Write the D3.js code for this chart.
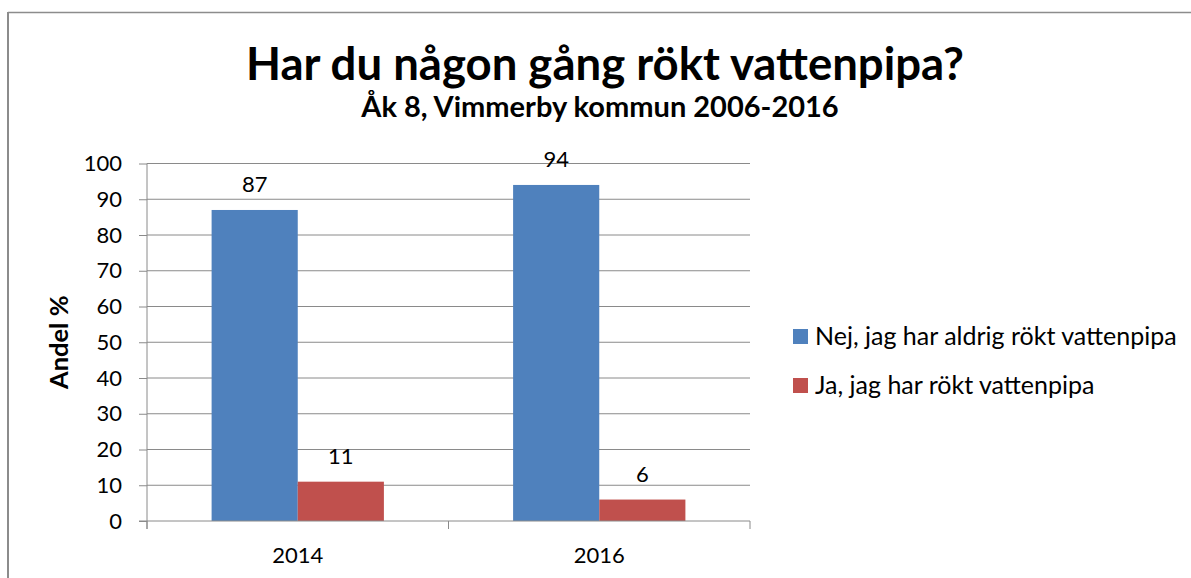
<!DOCTYPE html>
<html>
<head>
<meta charset="utf-8">
<script src="https://cdn.jsdelivr.net/npm/d3@7"></script>
<style>
  body { margin: 0; background: #fff; }
  svg { display: block; font-family: Lato, "Open Sans", sans-serif; }
</style>
</head>
<body>
<svg width="1191" height="578"></svg>
<script>
// chart data
var years = ['2014', '2016'];
var seriesNames = ['Nej, jag har aldrig rökt vattenpipa', 'Ja, jag har rökt vattenpipa'];
var nejValues = [87, 94];
var jaValues = [11, 6];
var yTicks = [0, 10, 20, 30, 40, 50, 60, 70, 80, 90, 100];
var colors = ['#4f81bd', '#c0504d'];

var svg = d3.select('svg');
var width = +svg.attr('width');
var height = +svg.attr('height');

var plot = { left: 147, right: 750, top: 163.5, bottom: 521 };

// frame of the chart object (only top and left show)
svg.append('line')
  .attr('x1', 8).attr('x2', width).attr('y1', 12.5).attr('y2', 12.5)
  .attr('stroke', '#8c8c8c').attr('stroke-width', 1.5);
svg.append('line')
  .attr('x1', 8).attr('x2', 8).attr('y1', 12).attr('y2', height)
  .attr('stroke', '#8c8c8c').attr('stroke-width', 2);

var x = d3.scaleBand().domain(years).range([plot.left, plot.right]);
var y = d3.scaleLinear().domain([0, 100]).range([plot.bottom, plot.top]);

// bar width from a 150% gap
var barW = x.bandwidth() / 3.5;
var x1 = d3.scaleBand().domain(d3.range(seriesNames.length))
  .range([barW * 0.75, barW * 0.75 + barW * 2]);

// gridlines
var grid = svg.append('g');
grid.selectAll('line').data(yTicks.slice(1)).enter().append('line')
  .attr('x1', plot.left).attr('x2', plot.right)
  .attr('y1', function(d) { return y(d); })
  .attr('y2', function(d) { return y(d); })
  .attr('stroke', '#8a8a8a').attr('stroke-width', 1);

// y axis
var yAxis = svg.append('g')
  .attr('transform', 'translate(' + plot.left + ',0)')
  .call(d3.axisLeft(y).tickValues(yTicks).tickSize(8).tickPadding(17));
yAxis.select('.domain').attr('stroke', '#8a8a8a').attr('d', 'M0,' + (plot.top) + 'V' + (plot.bottom + 8));
yAxis.selectAll('.tick line').attr('stroke', '#8a8a8a');
yAxis.selectAll('.tick text')
  .attr('font-size', 22).attr('font-family', 'Lato').attr('fill', '#000');

// bars
var data = years.map(function(yr, i) { return { year: yr, vals: [nejValues[i], jaValues[i]] }; });
var groups = svg.selectAll('.grp').data(data).enter().append('g')
  .attr('class', 'grp')
  .attr('transform', function(d) { return 'translate(' + x(d.year) + ',0)'; });

groups.selectAll('rect').data(function(d) { return d.vals; }).enter().append('rect')
  .attr('x', function(d, i) { return x1(i); })
  .attr('width', x1.bandwidth())
  .attr('y', function(d) { return y(d); })
  .attr('height', function(d) { return y(0) - y(d); })
  .attr('fill', function(d, i) { return colors[i]; });

groups.selectAll('text').data(function(d) { return d.vals; }).enter().append('text')
  .attr('x', function(d, i) { return x1(i) + x1.bandwidth() / 2; })
  .attr('y', function(d) { return y(d) - 18; })
  .attr('text-anchor', 'middle')
  .attr('font-size', 22)
  .text(function(d) { return d; });

// x axis
var xAxis = svg.append('g')
  .attr('transform', 'translate(0,' + plot.bottom + ')')
  .call(d3.axisBottom(x).tickSize(0).tickPadding(26));
xAxis.select('.domain').attr('stroke', '#8a8a8a').attr('d', 'M' + (plot.left - 8) + ',0H' + plot.right);
xAxis.selectAll('.tick text').attr('font-size', 22).attr('font-family', 'Lato').attr('fill', '#000');
xAxis.selectAll('.sep').data([plot.left, x('2016'), plot.right]).enter().append('line')
  .attr('class', 'sep')
  .attr('x1', function(d) { return d; }).attr('x2', function(d) { return d; })
  .attr('y1', 0).attr('y2', 8)
  .attr('stroke', '#8a8a8a');

// axis title
svg.append('text')
  .attr('transform', 'translate(68,' + ((plot.top + plot.bottom) / 2) + ') rotate(-90)')
  .attr('text-anchor', 'middle')
  .attr('font-size', 25.5).attr('font-weight', 'bold')
  .text('Andel %');

// titles
svg.append('text')
  .attr('x', 605).attr('y', 80)
  .attr('text-anchor', 'middle')
  .attr('font-size', 45.5).attr('font-weight', 'bold')
  .text('Har du någon gång rökt vattenpipa?');
svg.append('text')
  .attr('x', 600).attr('y', 117)
  .attr('text-anchor', 'middle')
  .attr('font-size', 29).attr('font-weight', 'bold')
  .text('Åk 8, Vimmerby kommun 2006-2016');

// legend
var legend = svg.selectAll('.leg').data(seriesNames).enter().append('g')
  .attr('class', 'leg')
  .attr('transform', function(d, i) { return 'translate(793,' + (329 + i * 49) + ')'; });
legend.append('rect')
  .attr('width', 15).attr('height', 15)
  .attr('fill', function(d, i) { return colors[i]; });
legend.append('text')
  .attr('x', 22).attr('y', 16)
  .attr('font-size', 25)
  .text(function(d) { return d; });
</script>
</body>
</html>
